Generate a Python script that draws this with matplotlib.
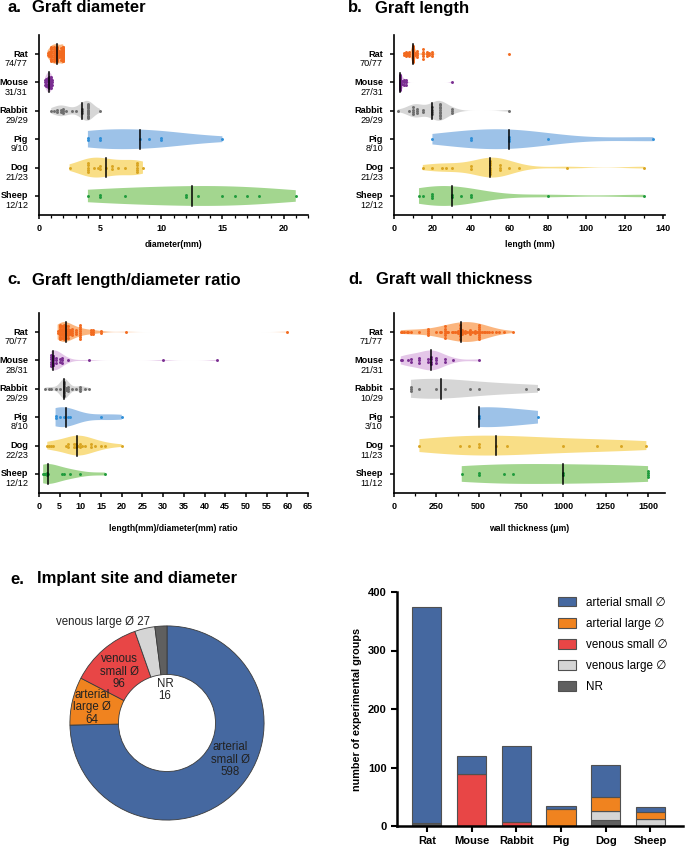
import matplotlib.pyplot as plt
from matplotlib.patches import Patch
import numpy as np

plt.rcParams['font.family'] = ['Liberation Sans', 'DejaVu Sans']

W, H = 685, 848

species = ['Rat', 'Mouse', 'Rabbit', 'Pig', 'Dog', 'Sheep']
fill_colors = ['#fbb57e', '#e4c6e8', '#d6d6d6', '#9dc2e8', '#f9de86', '#a3d68f']
dot_colors = ['#f26a1f', '#7a2e91', '#6e6e6e', '#2f8fd8', '#d9a521', '#1f9b3c']

# ---------- a. graft diameter (mm) ----------
diameter = [
    [0.7, 0.7, 0.8, 0.8, 0.8] + [1.0]*12 + [1.2]*8 + [1.3]*5 + [1.5]*14 + [1.6]*4 + [1.8]*6 + [2.0]*20,
    [0.5]*3 + [0.6]*4 + [0.7]*5 + [0.8]*6 + [0.9]*4 + [1.0]*6 + [1.1]*3,
    [1.0, 1.2, 1.5, 1.5, 1.8, 1.8, 2.0, 2.0, 2.0, 2.2, 2.7, 3.0, 3.5, 3.5, 3.5] + [4.0]*13 + [5.0],
    [4, 4, 5, 5, 8.3, 9, 10, 10, 15],
    [2.5, 4, 4, 4, 4, 4, 4.5, 4.8, 5, 5, 5.5, 6, 6, 6.5, 7, 8, 8, 8, 8, 8, 8.5],
    [4, 5, 5, 7, 12, 12, 13, 15, 16, 17, 18, 21],
]
diameter_n = ['74/77', '31/31', '29/29', '9/10', '21/23', '12/12']

# ---------- b. graft length (mm) ----------
length = [
    [5, 5, 6, 6, 6, 7, 7, 8, 8, 8] + [10]*40 + [11, 11, 12, 12, 12, 12, 15, 15, 15, 15, 15,
                                              17, 17, 17, 18, 18, 20, 20, 20, 60],
    [3]*18 + [4, 4, 5, 5, 5, 6, 6, 6, 30],
    [2, 8, 10, 10, 10, 10, 12, 12, 12, 15, 15, 20, 20, 20, 20] + [24]*10 + [30, 30, 30, 60],
    [20, 40, 40, 60, 60, 60, 80, 135],
    [15, 20, 25, 27, 30, 40, 40] + [50]*7 + [55, 55, 55, 60, 65, 90, 130],
    [13, 15, 20, 20, 20, 30, 30, 35, 40, 40, 80, 130],
]
length_n = ['70/77', '27/31', '29/29', '8/10', '21/23', '12/12']

# ---------- c. length/diameter ratio ----------
ratio = [
    [4.5, 4.5] + [5]*12 + [5.5]*6 + [6]*10 + [6.5]*6 + [7]*6 + [7.5]*3 + [8]*4 + [9]*3 + [10]*8
    + [12.5]*3 + [13]*3 + [15, 15, 21, 60],
    [3]*6 + [3.3]*5 + [3.5]*5 + [4]*3 + [5, 5, 5.5, 5.5, 5.5, 7, 12, 30, 43],
    [1.5, 2.5, 3, 4, 5] + [6]*12 + [6.5, 6.5, 7, 7, 7, 8, 9, 10, 10, 10, 11, 12],
    [4, 4, 5, 6, 7, 7.5, 15, 20],
    [2, 2.5, 3, 3.5, 6.5, 7, 7, 8.5, 8.5, 9, 9, 9.5, 10, 10, 10.5, 11, 12.5, 12.5, 13.5, 15, 16, 20],
    [1, 1.2, 1.3, 1.5, 2, 2, 2.2, 5.5, 6, 7.5, 10, 16],
]
ratio_n = ['70/77', '28/31', '29/29', '8/10', '22/23', '12/12']

# ---------- d. wall thickness (um) ----------
wall = [
    [40, 50, 60, 75, 80, 100, 150, 200, 200, 200, 200, 250, 270, 280] + [300]*6
    + [310, 320, 340, 350, 360, 370, 380, 380] + [390]*7 + [400]*3
    + [410, 420, 420, 430, 440, 450, 450, 450, 460, 470, 480, 480, 490] + [500]*8
    + [510, 520, 530, 540, 550, 560, 580, 600, 620, 650, 700],
    [40, 50, 80, 100, 100, 150, 150, 150, 200, 200, 220, 220, 220, 220, 250, 250, 250, 300, 300, 350, 500],
    [100, 100, 100, 150, 250, 300, 450, 500, 780, 850],
    [500, 500, 850],
    [150, 390, 440, 500, 500, 600, 670, 1000, 1200, 1340, 1490],
    [400, 500, 500, 650, 700, 1000, 1000, 1500, 1500, 1500, 1500],
]
wall_n = ['71/77', '21/31', '10/29', '3/10', '11/23', '11/12']

# ---------- e. implant site ----------
site_labels = ['arterial small \u2205', 'arterial large \u2205', 'venous small \u2205',
               'venous large \u2205', 'NR']
site_colors = ['#4568a0', '#f0831f', '#e84646', '#d5d5d5', '#5f5f5f']
arterial_small = [370, 30, 129, 5, 56, 8]
arterial_large = [0, 0, 0, 29, 23, 12]
venous_small = [0, 89, 7, 0, 0, 0]
venous_large = [0, 0, 0, 0, 15, 12]
not_reported = [5, 0, 0, 0, 11, 0]


def px_axes(left, top, right, bottom):
    return fig.add_axes([left / W, 1 - bottom / H, (right - left) / W, (bottom - top) / H])


def violin_panel(ax, groups, counts, bws, xmax, major, minor, xlabel, pad):
    for i, vals in enumerate(groups):
        vals = np.asarray(vals, float)
        parts = ax.violinplot(vals, positions=[i], orientation='horizontal', widths=0.7,
                              showextrema=False, points=400, bw_method=bws[i])
        body = parts['bodies'][0]
        body.set_facecolor(fill_colors[i])
        body.set_edgecolor('none')
        body.set_alpha(1)
        # median line, as tall as the violin at that value
        v = body.get_paths()[0].vertices
        up = v[v[:, 1] > i]
        order = np.argsort(up[:, 0])
        med = np.median(vals)
        half = np.interp(med, up[order, 0], up[order, 1]) - i
        ax.plot([med, med], [i - half, i + half], color='black', lw=1.1, zorder=4)
        # stacked dots
        uniq, cnt = np.unique(vals, return_counts=True)
        for u, k in zip(uniq, cnt):
            step = min(0.08, 0.55 / k)
            offs = (np.arange(k) - (k - 1) / 2) * step
            ax.scatter(np.full(k, u), i + offs, s=4.5, color=dot_colors[i], lw=0, zorder=3)
    ax.set_ylim(len(groups) - 0.33, -0.67)
    ax.set_xlim(0, xmax)
    ax.set_xticks(np.arange(0, xmax + 1e-9, major))
    if minor:
        ax.set_xticks(np.arange(0, xmax + 1e-9, minor), minor=True)
    ax.set_yticks(range(len(groups)))
    ax.set_yticklabels([])
    for s in ['top', 'right']:
        ax.spines[s].set_visible(False)
    for s in ['left', 'bottom']:
        ax.spines[s].set_linewidth(1.2)
    ax.tick_params(axis='both', width=1.1, length=3, labelsize=6.5)
    ax.tick_params(axis='x', which='minor', width=0.9, length=2)
    for lab in ax.get_xticklabels():
        lab.set_fontweight('bold')
    for i, (name, n) in enumerate(zip(species, counts)):
        ax.annotate(name, xy=(0, i), xycoords=('axes fraction', 'data'), xytext=(-8, 0),
                    textcoords='offset points', ha='right', va='center',
                    fontsize=6.6, fontweight='bold')
        ax.annotate(n, xy=(0, i), xycoords=('axes fraction', 'data'), xytext=(-8, -7),
                    textcoords='offset points', ha='right', va='center', fontsize=6.6)
    ax.set_xlabel(xlabel, fontsize=6.2, fontweight='bold', labelpad=pad)


fig = plt.figure(figsize=(W / 100, H / 100), dpi=100)

ax_a = px_axes(39, 35, 308, 215)
violin_panel(ax_a, diameter, diameter_n, [0.5, 0.6, 0.45, 0.8, 0.6, 0.9],
             22, 5, 1, 'diameter(mm)', 5)
ax_b = px_axes(394, 35, 665, 215)
violin_panel(ax_b, length, length_n, [0.12, 0.2, 0.35, 0.6, 0.35, 0.45],
             141, 20, 10, 'length (mm)', 5)
ax_c = px_axes(39, 313, 308, 493)
violin_panel(ax_c, ratio, ratio_n, [0.25, 0.2, 0.4, 0.6, 0.6, 0.6],
             65, 5, None, 'length(mm)/diameter(mm) ratio', 9)
ax_d = px_axes(394, 313, 665, 493)
violin_panel(ax_d, wall, wall_n, [0.5, 0.5, 0.8, 1.0, 0.8, 0.9],
             1600, 250, 125, 'wall thickness (\u03bcm)', 9)
ax_d.set_xticks(np.arange(0, 1501, 250))

# panel titles
for x1, x2, y, letter, title in [(7, 32, 8, 'a.', 'Graft diameter'),
                                 (348, 375, 8, 'b.', 'Graft length'),
                                 (7, 32, 280, 'c.', 'Graft length/diameter ratio'),
                                 (348, 376, 280, 'd.', 'Graft wall thickness'),
                                 (10, 37, 579, 'e.', 'Implant site and diameter')]:
    fig.text(x1 / W, 1 - y / H, letter, fontsize=12, fontweight='bold', va='center')
    fig.text(x2 / W, 1 - y / H, title, fontsize=12, fontweight='bold', va='center')

# ---------- donut ----------
site_totals = [sum(arterial_small), sum(arterial_large), sum(venous_small),
               sum(venous_large), sum(not_reported)]
ax_e = px_axes(167 - 116.5, 723 - 116.5, 167 + 116.5, 723 + 116.5)
ax_e.pie(site_totals, colors=site_colors, startangle=90, counterclock=False,
         wedgeprops=dict(width=0.5, edgecolor='#3a3a3a', linewidth=0.6))
ax_e.set_xlim(-1.2, 1.2)
ax_e.set_ylim(-1.2, 1.2)
pie_text = ['arterial\nsmall \u00d8\n%d', 'arterial\nlarge \u00d8\n%d', 'venous\nsmall \u00d8\n%d',
            'venous large \u00d8 %d', 'NR\n%d']
pie_pos = [(0.65, -0.38), (-0.77, 0.16), (-0.49, 0.53), (-0.66, 1.04), (-0.02, 0.34)]
for txt, val, (px, py) in zip(pie_text, site_totals, pie_pos):
    ax_e.text(px, py, txt % val, ha='center', va='center', fontsize=8.3,
              color='#222222', linespacing=1.05)

# ---------- stacked bars ----------
ax_f = px_axes(397, 592, 683, 826)
x = np.arange(len(species))
layers = [(not_reported, site_colors[4]), (venous_large, site_colors[3]),
          (venous_small, site_colors[2]), (arterial_large, site_colors[1]),
          (arterial_small, site_colors[0])]
bottom = np.zeros(len(species))
for vals, col in layers:
    ax_f.bar(x, vals, bottom=bottom, width=0.65, color=col, edgecolor='#505050', linewidth=0.8)
    bottom += np.array(vals)
ax_f.set_xlim(-0.67, 5.73)
ax_f.set_ylim(0, 400)
ax_f.set_yticks([0, 100, 200, 300, 400])
ax_f.set_xticks(x)
ax_f.set_xticklabels(species)
for s in ['top', 'right']:
    ax_f.spines[s].set_visible(False)
for s in ['left', 'bottom']:
    ax_f.spines[s].set_linewidth(1.8)
ax_f.tick_params(axis='both', width=1.5, length=4, labelsize=8)
for lab in ax_f.get_xticklabels() + ax_f.get_yticklabels():
    lab.set_fontweight('bold')
ax_f.set_ylabel('number of experimental groups', fontsize=7.8, fontweight='bold', labelpad=4)
handles = [Patch(facecolor=c, edgecolor='#505050', linewidth=0.8) for c in site_colors]
ax_f.legend(handles, site_labels, loc='upper right', bbox_to_anchor=(0.97, 1.01), frameon=False,
            fontsize=8.4, handlelength=1.6, handleheight=0.9, labelspacing=0.78,
            handletextpad=0.8, borderaxespad=0.2)

fig.savefig('out.png', dpi=100)
